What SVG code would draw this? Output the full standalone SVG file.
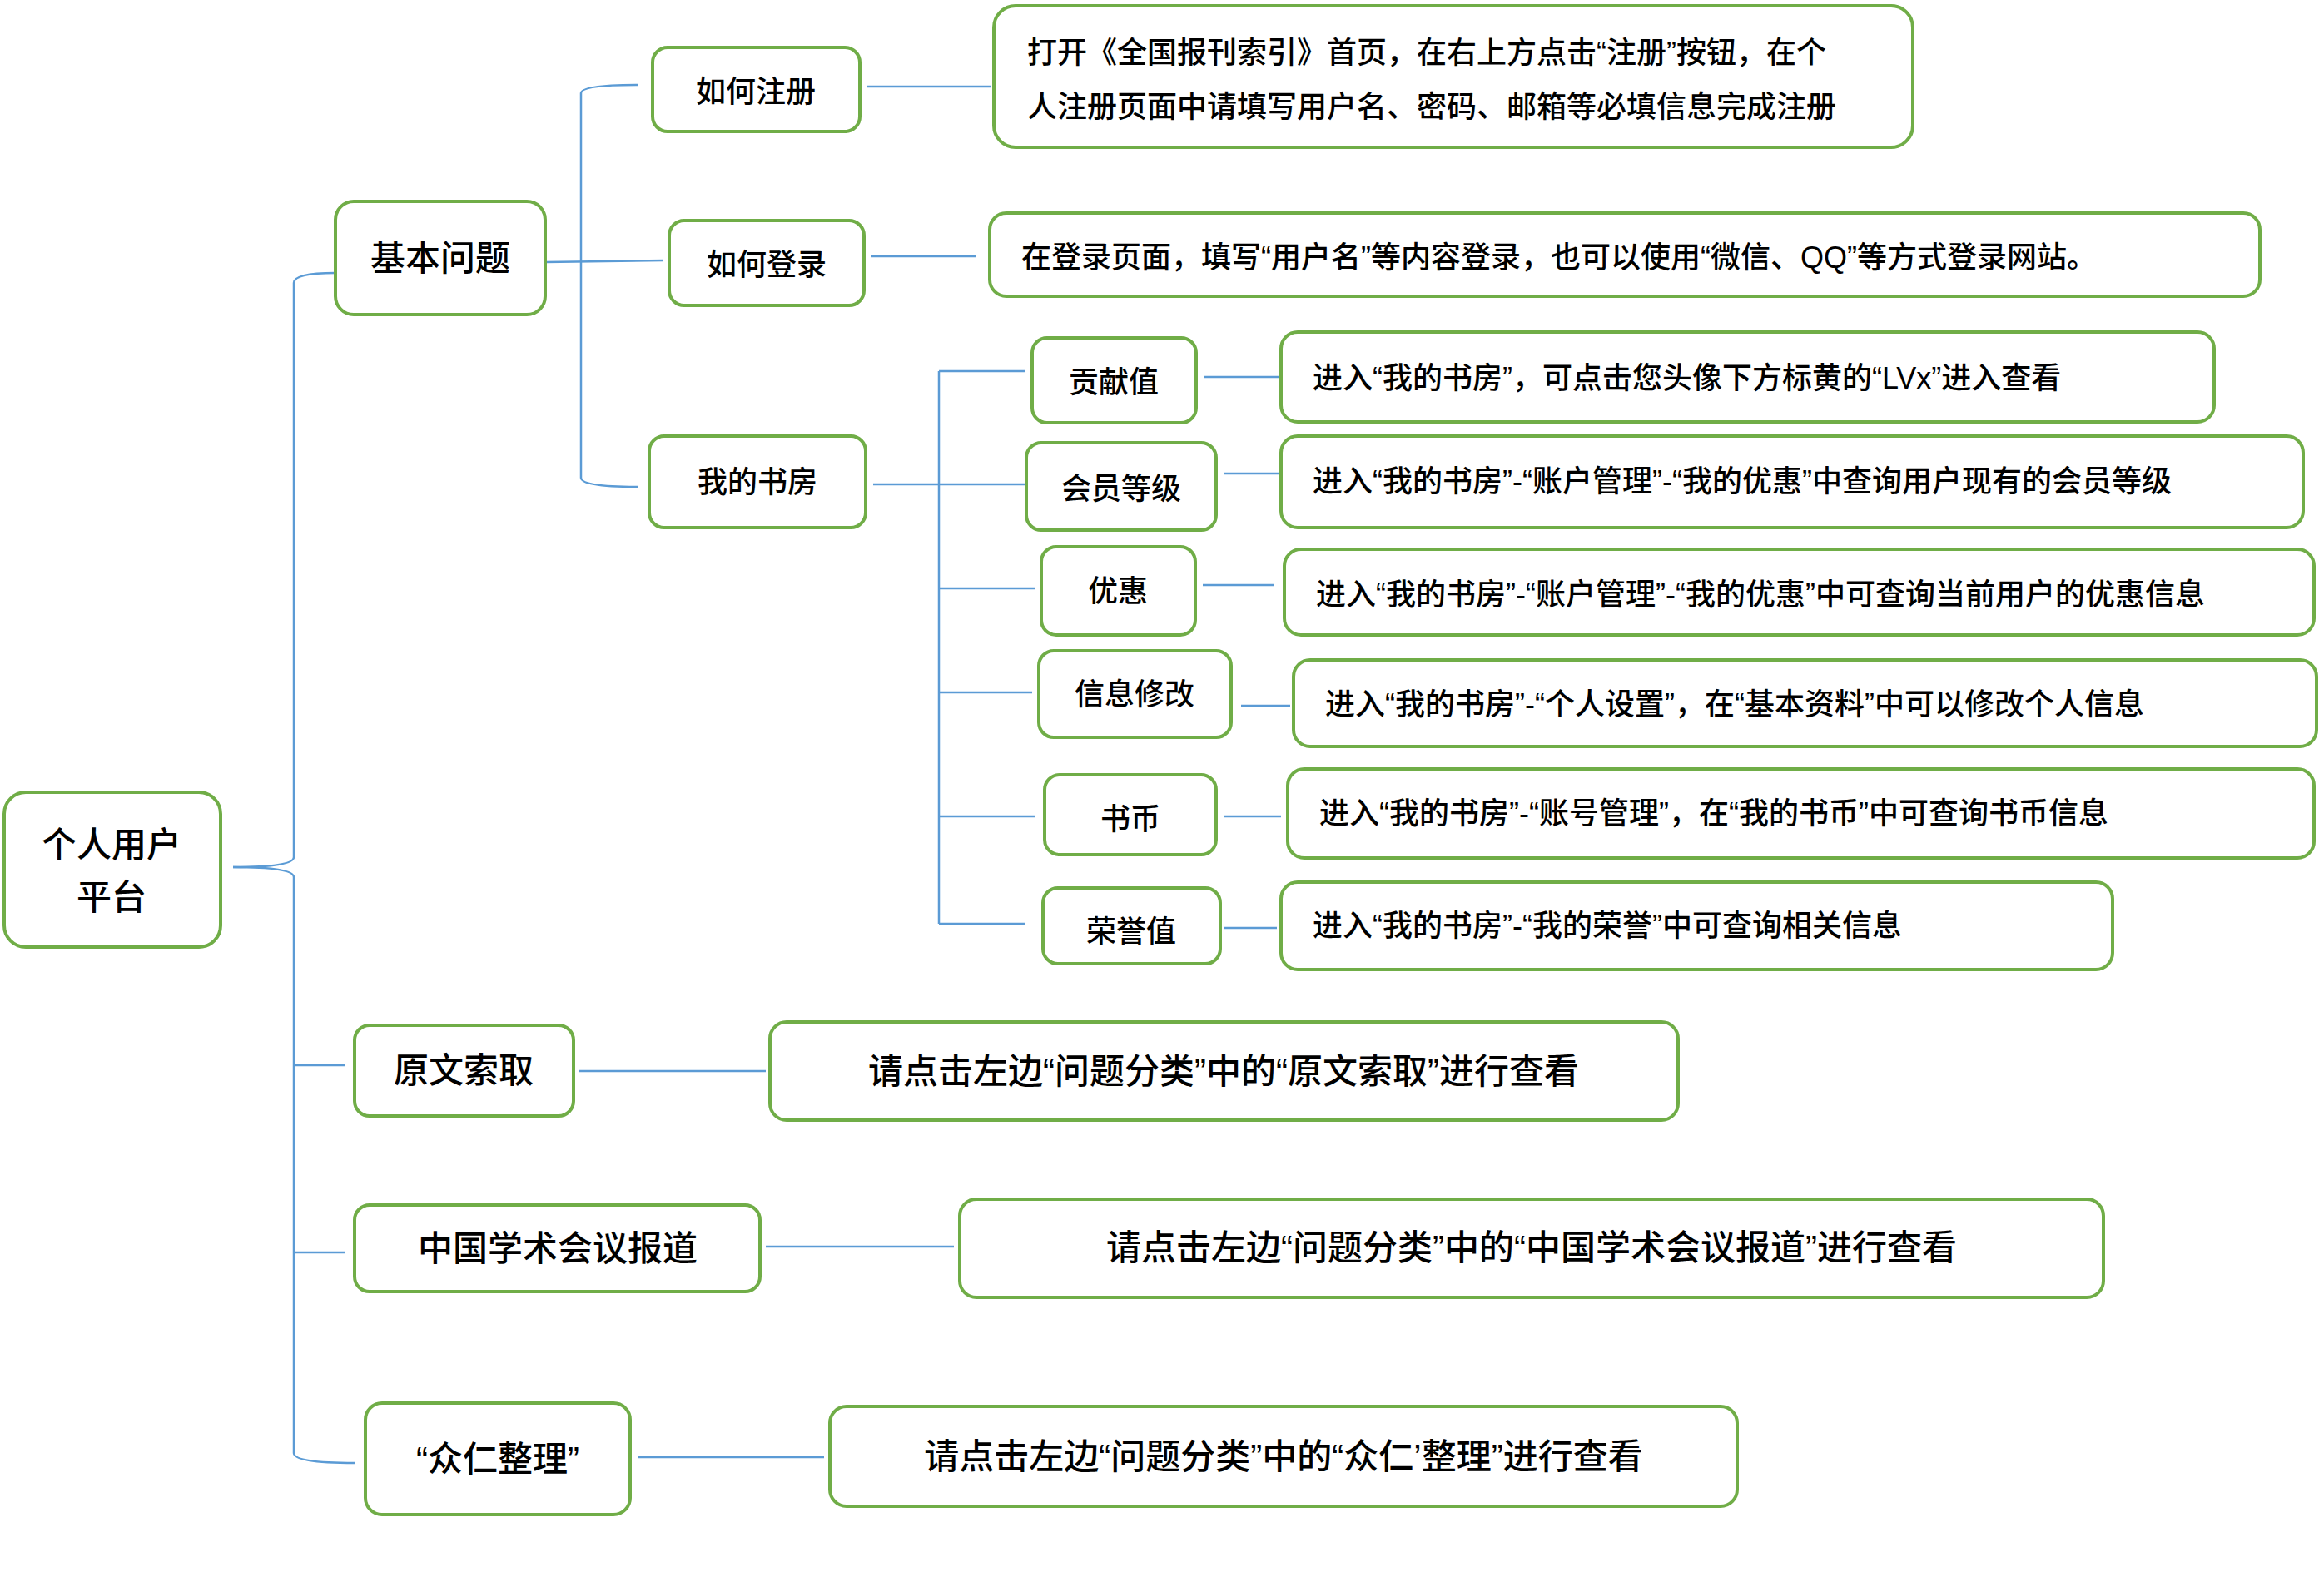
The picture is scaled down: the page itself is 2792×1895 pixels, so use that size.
<svg xmlns="http://www.w3.org/2000/svg" width="2792" height="1895" viewBox="0 0 2792 1895">
<style>
.n{fill:#fff;stroke:#70AD47;stroke-width:4}
.t{font-family:"Liberation Sans","Noto Sans CJK SC",sans-serif;font-weight:500;fill:#000;dominant-baseline:central}
.c{text-anchor:middle}
.s{font-size:36px}.m{font-size:40px}.l{font-size:42px}
.k{fill:none;stroke:#5B9BD5;stroke-width:2.5}
</style>
<rect width="2792" height="1895" fill="#fff"/>
<g id="connectors" class="k">
<path d="M280 1042 Q353 1042 353 1030 L353 340 Q353 328 403 328"/>
<path d="M280 1042 Q353 1042 353 1054 L353 1746 Q353 1758 426 1758"/>
<path d="M353 1280 H415 M353 1505 H415"/>
<path d="M655 315 L797 313"/>
<path d="M766 102 Q698 102 698 112 L698 574 Q698 585 766 585"/>
<path d="M1042 104 H1190 M1047 308 H1172"/>
<path d="M1049 582 H1231 M1128 446 V1110 M1128 446 H1231 M1128 707 H1244 M1128 832 H1240 M1128 981 H1244 M1128 1110 H1231"/>
<path d="M1446 453 H1536 M1470 569 H1536 M1445 703 H1530 M1491 848 H1550 M1470 981 H1539 M1470 1115 H1534"/>
<path d="M696 1287 H920 M920 1498 H1146 M766 1751 H990"/>
</g>
<g id="root"><rect class="n" x="5" y="952" width="260" height="186" rx="26"/><text class="t c l" x="134" y="1015">个人用户</text><text class="t c l" x="134" y="1078">平台</text></g>
<g id="n1"><rect class="n" x="403" y="242" width="252" height="136" rx="22"/><text class="t c l" x="529" y="310">基本问题</text></g>
<g id="n11"><rect class="n" x="784" y="57" width="249" height="101" rx="18"/><text class="t c s" x="908" y="110">如何注册</text></g>
<g id="d11"><rect class="n" x="1194" y="7" width="1104" height="170" rx="26"/><text class="t s" x="1234" y="63">打开《全国报刊索引》首页，在右上方点击“注册”按钮，在个</text><text class="t s" x="1234" y="128">人注册页面中请填写用户名、密码、邮箱等必填信息完成注册</text></g>
<g id="n12"><rect class="n" x="804" y="265" width="234" height="102" rx="18"/><text class="t c s" x="921" y="318">如何登录</text></g>
<g id="d12"><rect class="n" x="1189" y="256" width="1526" height="100" rx="20"/><text class="t s" x="1227" y="309">在登录页面，填写“用户名”等内容登录，也可以使用“微信、QQ”等方式登录网站。</text></g>
<g id="n13"><rect class="n" x="780" y="524" width="260" height="110" rx="18"/><text class="t c s" x="910" y="579">我的书房</text></g>
<g id="a1"><rect class="n" x="1240" y="406" width="197" height="102" rx="18"/><text class="t c s" x="1338" y="459">贡献值</text></g>
<g id="b1"><rect class="n" x="1539" y="399" width="1121" height="108" rx="20"/><text class="t s" x="1577" y="454">进入“我的书房”，可点击您头像下方标黄的“LVx”进入查看</text></g>
<g id="a2"><rect class="n" x="1233" y="532" width="228" height="105" rx="18"/><text class="t c s" x="1347" y="587">会员等级</text></g>
<g id="b2"><rect class="n" x="1539" y="524" width="1228" height="110" rx="20"/><text class="t s" x="1577" y="578">进入“我的书房”-“账户管理”-“我的优惠”中查询用户现有的会员等级</text></g>
<g id="a3"><rect class="n" x="1251" y="657" width="185" height="106" rx="18"/><text class="t c s" x="1343" y="710">优惠</text></g>
<g id="b3"><rect class="n" x="1543" y="660" width="1237" height="103" rx="20"/><text class="t s" x="1581" y="714">进入“我的书房”-“账户管理”-“我的优惠”中可查询当前用户的优惠信息</text></g>
<g id="a4"><rect class="n" x="1248" y="782" width="231" height="104" rx="18"/><text class="t c s" x="1363" y="834">信息修改</text></g>
<g id="b4"><rect class="n" x="1554" y="793" width="1229" height="104" rx="20"/><text class="t s" x="1592" y="846">进入“我的书房”-“个人设置”，在“基本资料”中可以修改个人信息</text></g>
<g id="a5"><rect class="n" x="1255" y="931" width="206" height="96" rx="18"/><text class="t c s" x="1358" y="984">书币</text></g>
<g id="b5"><rect class="n" x="1547" y="924" width="1233" height="107" rx="20"/><text class="t s" x="1585" y="977">进入“我的书房”-“账号管理”，在“我的书币”中可查询书币信息</text></g>
<g id="a6"><rect class="n" x="1253" y="1067" width="213" height="91" rx="18"/><text class="t c s" x="1359" y="1119">荣誉值</text></g>
<g id="b6"><rect class="n" x="1539" y="1060" width="999" height="105" rx="20"/><text class="t s" x="1577" y="1112">进入“我的书房”-“我的荣誉”中可查询相关信息</text></g>
<g id="n2"><rect class="n" x="426" y="1232" width="263" height="109" rx="18"/><text class="t c l" x="557" y="1286">原文索取</text></g>
<g id="d2"><rect class="n" x="925" y="1228" width="1091" height="118" rx="20"/><text class="t c l" x="1470" y="1287">请点击左边“问题分类”中的“原文索取”进行查看</text></g>
<g id="n3"><rect class="n" x="426" y="1448" width="487" height="104" rx="18"/><text class="t c l" x="670" y="1500">中国学术会议报道</text></g>
<g id="d3"><rect class="n" x="1153" y="1441" width="1374" height="118" rx="20"/><text class="t c l" x="1840" y="1499">请点击左边“问题分类”中的“中国学术会议报道”进行查看</text></g>
<g id="n4"><rect class="n" x="439" y="1686" width="318" height="134" rx="20"/><text class="t c l" x="598" y="1753">“众仁整理”</text></g>
<g id="d4"><rect class="n" x="997" y="1690" width="1090" height="120" rx="20"/><text class="t c l" x="1542" y="1750">请点击左边“问题分类”中的“众仁’整理”进行查看</text></g>
</svg>
